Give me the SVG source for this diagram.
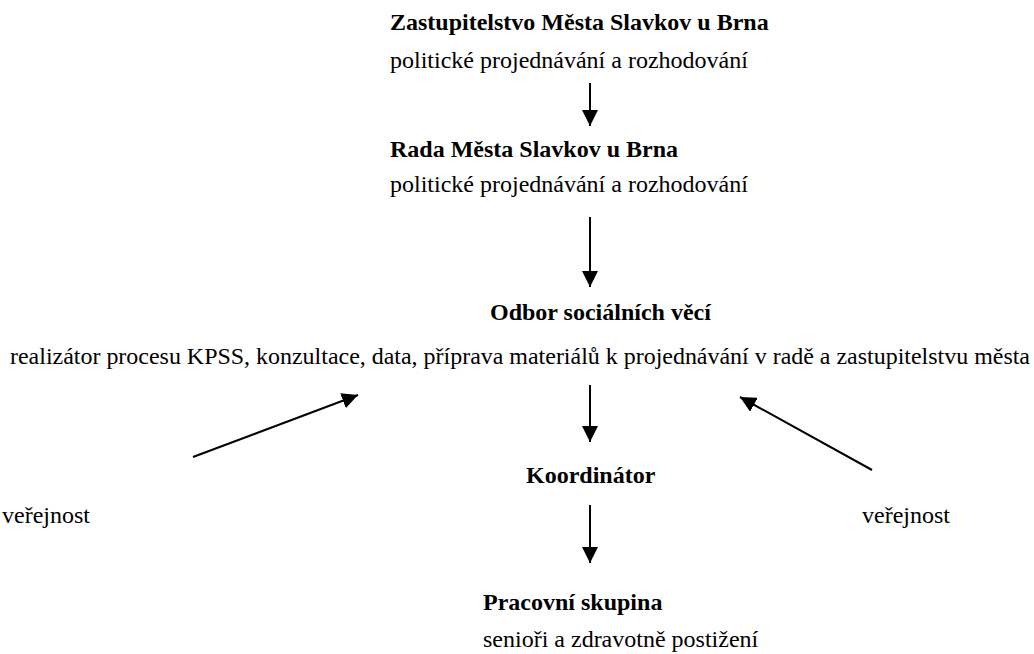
<svg xmlns="http://www.w3.org/2000/svg" width="1034" height="654" viewBox="0 0 1034 654">
<style>
text{font-family:"Liberation Serif","Times New Roman",serif;font-size:24px;fill:#000}
.b{font-weight:bold}
.c line{stroke:#000;stroke-width:2}
</style>
<defs>
<marker id="ah" markerWidth="16" markerHeight="16" refX="16" refY="8" orient="auto" markerUnits="userSpaceOnUse" viewBox="0 0 16 16">
<path d="M0,0 L16,8 L0,16 Z" fill="#000"/>
</marker>
</defs>
<rect width="1034" height="654" fill="#fff"/>
<g id="n-zastupitelstvo"><text class="b" x="390" y="30">Zastupitelstvo Města Slavkov u Brna</text><text x="390" y="68">politické projednávání a rozhodování</text></g>
<g id="n-rada"><text class="b" x="390" y="157">Rada Města Slavkov u Brna</text><text x="390" y="192">politické projednávání a rozhodování</text></g>
<g id="n-odbor"><text class="b" x="490" y="320">Odbor sociálních věcí</text><text x="10" y="364" textLength="1020" lengthAdjust="spacingAndGlyphs">realizátor procesu KPSS, konzultace, data, příprava materiálů k projednávání v radě a zastupitelstvu města</text></g>
<g id="n-koordinator"><text class="b" x="526" y="483">Koordinátor</text></g>
<g id="n-verejnost-l"><text x="2" y="523">veřejnost</text></g>
<g id="n-verejnost-r"><text x="862" y="523">veřejnost</text></g>
<g id="n-pracovni"><text class="b" x="483" y="610">Pracovní skupina</text><text x="483" y="647">senioři a zdravotně postižení</text></g>
<g class="c" id="connectors">
<line x1="590" y1="83" x2="590" y2="126" marker-end="url(#ah)"/>
<line x1="590" y1="217" x2="590" y2="287" marker-end="url(#ah)"/>
<line x1="590" y1="385" x2="590" y2="442" marker-end="url(#ah)"/>
<line x1="590" y1="505" x2="590" y2="563" marker-end="url(#ah)"/>
<line x1="193" y1="457" x2="358" y2="395" marker-end="url(#ah)"/>
<line x1="872" y1="470" x2="740" y2="397" marker-end="url(#ah)"/>
</g>
</svg>
